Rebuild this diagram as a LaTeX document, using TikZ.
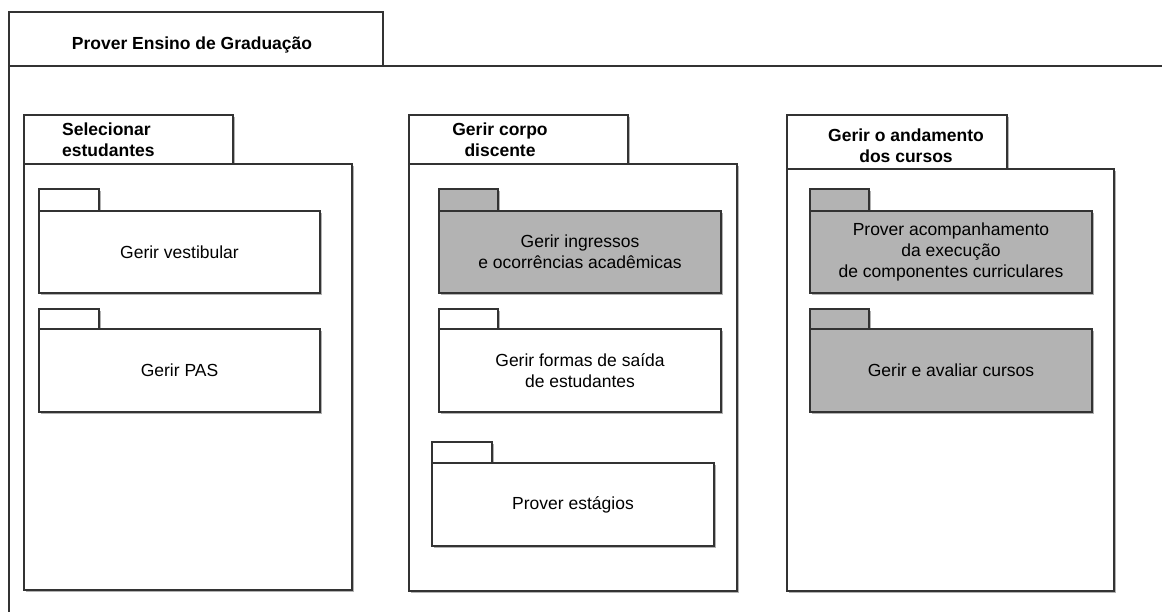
\documentclass[tikz,border=0pt]{standalone}
\usepackage{fontspec}
\setmainfont{Liberation Sans}
\usetikzlibrary{shadows}
\definecolor{linec}{HTML}{333333}
\definecolor{pkggray}{HTML}{B3B3B3}
\newcommand\lbl{\fontsize{17.5}{21}\selectfont}
\tikzset{
  pkgbox/.style={draw=linec, line width=1.3pt, fill=white, inner sep=0pt,
    outer sep=0pt, anchor=north west, align=center, font=\lbl,
    drop shadow={shadow xshift=1.6pt, shadow yshift=-1.6pt, opacity=0.3, fill=black}},
  graybox/.style={pkgbox, fill=pkggray},
  title/.style={font=\lbl\bfseries, inner sep=0pt, align=center},
  frameline/.style={draw=linec, line width=1.3pt}
}
\begin{document}
\begin{tikzpicture}[x=1pt, y=-1pt]
\useasboundingbox (0,0) rectangle (1162,611);

% outer frame: tab, header line and left border
\node[frameline, inner sep=0pt, outer sep=0pt, anchor=north west,
      minimum width=374pt, minimum height=54pt] (frametab) at (9,12) {};
\coordinate (frameend) at (1162,66);
\coordinate (framebottom) at (9,615);
\draw[frameline] (frametab.south west) -- (frameend);
\draw[frameline] (frametab.south west) -- (framebottom);
\node[title] (frametitle) at (192,45) {Prover Ensino de Graduação};

% package 1: Selecionar estudantes
\node[pkgbox, minimum width=209pt, minimum height=49pt] (p1tab) at (24,115) {};
\node[pkgbox, minimum width=328pt, minimum height=426pt] (p1) at (24,164) {};
\node[title, anchor=west, align=left] (p1title) at (62,140) {Selecionar\\estudantes};

\node[pkgbox, minimum width=60pt, minimum height=22pt] (a1tab) at (39,189) {};
\node[pkgbox, minimum width=281pt, minimum height=82pt] (a1) at (39,211) {Gerir vestibular};
\node[pkgbox, minimum width=60pt, minimum height=20pt] (a2tab) at (39,309) {};
\node[pkgbox, minimum width=281pt, minimum height=83pt] (a2) at (39,329) {Gerir PAS};

% package 2: Gerir corpo discente
\node[pkgbox, minimum width=219pt, minimum height=49pt] (p2tab) at (409,115) {};
\node[pkgbox, minimum width=328pt, minimum height=427pt] (p2) at (409,164) {};
\node[title] (p2title) at (500,140) {Gerir corpo\\discente};

\node[graybox, minimum width=59pt, minimum height=22pt] (b1tab) at (439,189) {};
\node[graybox, minimum width=282pt, minimum height=82pt] (b1) at (439,211) {Gerir ingressos\\e ocorrências acadêmicas};
\node[pkgbox, minimum width=59pt, minimum height=20pt] (b2tab) at (439,309) {};
\node[pkgbox, minimum width=282pt, minimum height=83pt] (b2) at (439,329) {Gerir formas de saída\\de estudantes};
\node[pkgbox, minimum width=60pt, minimum height=21pt] (b3tab) at (432,442) {};
\node[pkgbox, minimum width=282pt, minimum height=83pt] (b3) at (432,463) {Prover estágios};

% package 3: Gerir o andamento dos cursos
\node[pkgbox, minimum width=220pt, minimum height=54pt] (p3tab) at (787,115) {};
\node[pkgbox, minimum width=327pt, minimum height=422pt] (p3) at (787,169) {};
\node[title] (p3title) at (906,146) {Gerir o andamento\\dos cursos};

\node[graybox, minimum width=59pt, minimum height=22pt] (c1tab) at (810,189) {};
\node[graybox, minimum width=282pt, minimum height=82pt] (c1) at (810,211) {Prover acompanhamento\\da execução\\de componentes curriculares};
\node[graybox, minimum width=59pt, minimum height=20pt] (c2tab) at (810,309) {};
\node[graybox, minimum width=282pt, minimum height=83pt] (c2) at (810,329) {Gerir e avaliar cursos};
\end{tikzpicture}
\end{document}
